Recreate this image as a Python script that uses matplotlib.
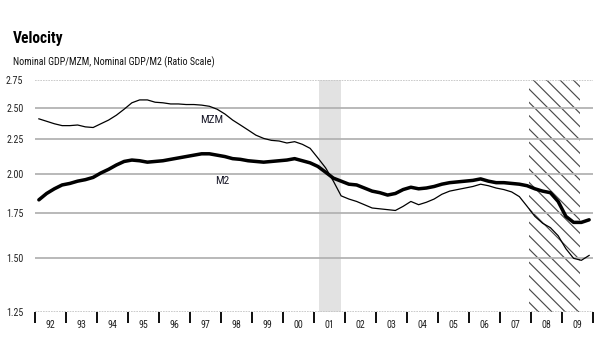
import numpy as np
import matplotlib
matplotlib.use("Agg")
import matplotlib.pyplot as plt
from matplotlib import font_manager

# ---------------- data ----------------
years = list(range(1992, 2010))
year_labels = [f"{y % 100:02d}" for y in years]
ytick_values = [1.25, 1.50, 1.75, 2.00, 2.25, 2.50, 2.75]
ytick_labels = ["1.25", "1.50", "1.75", "2.00", "2.25", "2.50", "2.75"]

# quarterly values 1992Q1 .. 2009Q4
mzm = [2.41, 2.39, 2.37, 2.355,
       2.355, 2.36, 2.345, 2.34,
       2.37, 2.40, 2.44, 2.49,
       2.545, 2.57, 2.57, 2.55,
       2.545, 2.535, 2.535, 2.53,
       2.53, 2.525, 2.515, 2.49,
       2.45, 2.40, 2.36, 2.32,
       2.28, 2.255, 2.24, 2.235,
       2.22, 2.23, 2.21, 2.18,
       2.11, 2.04, 1.95, 1.855,
       1.835, 1.82, 1.80, 1.78,
       1.775, 1.77, 1.765, 1.79,
       1.82, 1.80, 1.815, 1.835,
       1.865, 1.885, 1.895, 1.905,
       1.915, 1.93, 1.92, 1.905,
       1.895, 1.88, 1.85, 1.79,
       1.73, 1.69, 1.665, 1.62,
       1.55, 1.50, 1.49, 1.515]
m2 = [1.83, 1.87, 1.90, 1.925,
      1.935, 1.95, 1.96, 1.975,
      2.005, 2.03, 2.06, 2.085,
      2.095, 2.09, 2.08, 2.085,
      2.09, 2.10, 2.11, 2.12,
      2.13, 2.14, 2.14, 2.13,
      2.12, 2.105, 2.10, 2.09,
      2.085, 2.08, 2.085, 2.09,
      2.095, 2.105, 2.09, 2.075,
      2.05, 2.01, 1.97, 1.95,
      1.93, 1.925, 1.905, 1.885,
      1.875, 1.86, 1.87, 1.895,
      1.91, 1.90, 1.905, 1.915,
      1.93, 1.94, 1.945, 1.95,
      1.955, 1.965, 1.95, 1.94,
      1.94, 1.935, 1.93, 1.92,
      1.90, 1.885, 1.875, 1.82,
      1.73, 1.695, 1.695, 1.71]
t = 1992 + 0.125 + 0.25 * np.arange(len(mzm))

recession = (2001.17, 2001.87)
recession_hatched = (2007.92, 2009.58)
series_labels = [("MZM", 1997.7, 2.40), ("M2", 1998.05, 1.953)]

# ---------------- fonts ----------------
names = {f.name for f in font_manager.fontManager.ttflist}
narrow = "Roboto Condensed" if "Roboto Condensed" in names else "Liberation Sans"
plt.rcParams['font.family'] = [narrow, 'DejaVu Sans']
plt.rcParams['hatch.linewidth'] = 0.7
plt.rcParams['hatch.color'] = '#4a4a4a'

DPI = 120
W, H = 606, 352
fig = plt.figure(figsize=(W / DPI, H / DPI), dpi=DPI)
ax = fig.add_axes([35 / W, 40 / H, (593 - 35) / W, (312 - 80) / H])

ax.set_yscale('log')
ax.set_ylim(1.25, 2.75)
ax.set_xlim(1992, 2010)

# recession shading
ax.axvspan(*recession, color='#e2e2e2', lw=0, zorder=0)
ax.axvspan(*recession_hatched, facecolor='none', edgecolor='#4a4a4a', hatch='\\\\\\', lw=0, zorder=0.5)

# gridlines
for v in ytick_values:
    if v in (1.25, 2.75):
        ax.axhline(v, color='#c4c4c4', lw=1.0, ls=(0, (1, 0.6)), zorder=1)
    else:
        ax.axhline(v, color='#b4b4b4', lw=1.1, zorder=1)

ax.plot(t, m2, color='black', lw=2.1, zorder=3, solid_capstyle='round')
ax.plot(t, mzm, color='black', lw=0.75, zorder=3)

for lab, lx, ly in series_labels:
    ax.text(lx, ly, lab, fontsize=6.8, ha='center', va='center', color='#1a1a2a', zorder=4)

for s in ax.spines.values():
    s.set_visible(False)

ax.set_yticks(ytick_values)
ax.set_yticklabels(ytick_labels)
ax.yaxis.set_minor_locator(matplotlib.ticker.NullLocator())
ax.tick_params(axis='y', length=0, labelsize=6.0, pad=7, labelcolor='#222222')

ax.set_xticks(list(range(1992, 2011)))
ax.set_xticklabels([])
ax.set_xticks([y + 0.5 for y in years], minor=True)
ax.set_xticklabels(year_labels, minor=True)
ax.tick_params(axis='x', which='major', length=6.5, width=1.1, direction='out', color='black')
ax.tick_params(axis='x', which='minor', length=0, labelsize=6.0, pad=5, labelcolor='#222222')

fig.text(13 / W, 1 - 38 / H, "Velocity", fontsize=9.3, fontweight='bold', va='center', ha='left')
fig.text(13 / W, 1 - 62 / H, "Nominal GDP/MZM, Nominal GDP/M2 (Ratio Scale)", fontsize=6.0,
         va='center', ha='left', color='#111111')

fig.savefig("out.png", dpi=DPI)
